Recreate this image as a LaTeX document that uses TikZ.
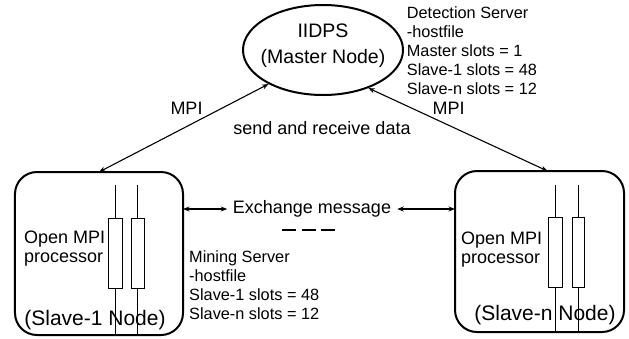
\documentclass[tikz,border=0pt]{standalone}
\usepackage{fontspec}
\setmainfont{Liberation Sans}
\usetikzlibrary{shapes.geometric,arrows.meta,calc}
\begin{document}
\begin{tikzpicture}[x=1bp,y=-1bp,
  frame/.style={draw, line width=2bp, rounded corners=22bp, inner sep=0, outer sep=0},
  hostnode/.style={draw, ellipse, line width=2bp, minimum width=160bp, minimum height=90bp, inner sep=0},
  link/.style={line width=1.1bp, {Stealth[length=6.5bp,width=5bp]}-{Stealth[length=6.5bp,width=5bp]}},
  wire/.style={line width=0.9bp},
  bodytxt/.style={inner sep=0, font=\fontsize{18bp}{19bp}\selectfont},
  infotxt/.style={inner sep=0, align=left, anchor=north west, font=\fontsize{16.3bp}{19bp}\selectfont},
  titletxt/.style={inner sep=0, align=center, font=\fontsize{19.5bp}{26bp}\selectfont},
  nodetxt/.style={inner sep=0, font=\fontsize{21bp}{24bp}\selectfont},
]
\useasboundingbox (0,0) rectangle (629,338);

% master node and the two slave frames
\node[hostnode] (master) at (323,50) {};
\node[titletxt] (mtxt) at (323,45.5) {IIDPS\\(Master Node)};
\node[frame, minimum width=168bp, minimum height=163bp] (s1) at (99,253.5) {};
\node[frame, minimum width=169bp, minimum height=161bp] (sn) at (539.5,251.5) {};

% processor symbols inside Slave-1 (wires stop at the frame)
\begin{scope}
  \clip (s1.south west) rectangle (s1.north east);
  \draw[wire] (108,218) rectangle (122,288);
  \draw[wire] (131,218) rectangle (144,288);
  \draw[wire] (115,185) -- (115,218) (115,288) -- (115,345);
  \draw[wire] (137.5,185) -- (137.5,218) (137.5,288) -- (137.5,345);
\end{scope}

% processor symbols inside Slave-n
\begin{scope}
  \clip (sn.south west) rectangle (sn.north east);
  \draw[wire] (548,217) rectangle (562,287);
  \draw[wire] (572,217) rectangle (584,287);
  \draw[wire] (555,185) -- (555,217) (555,287) -- (555,345);
  \draw[wire] (578,185) -- (578,217) (578,287) -- (578,345);
\end{scope}

% texts inside the frames
\node[bodytxt, anchor=west, align=left] (p1) at (24,249) {Open MPI\\processor};
\node[bodytxt, anchor=west, align=left] (pn) at (461,250) {Open MPI\\processor};
\node[nodetxt] (l1) at (95,320) {(Slave-1 Node)};
\node[nodetxt] (ln) at (545,315) {(Slave-n Node)};

% MPI links to the master
\draw[link] (s1.north) -- (master.212);
\draw[link] (master.320) -- ($(sn.north)+(8,0)$);
\node[bodytxt] (mpi1) at (186.5,108) {MPI};
\node[bodytxt] (mpin) at (448.5,108) {MPI};
\node[bodytxt] (srd) at (322,128) {send and receive data};

% message exchange between slaves
\node[bodytxt] (ex) at (312,209) {Exchange message};
\draw[link] (s1.east |- ex.west) -- ([xshift=-5.5bp]ex.west);
\draw[link] (sn.west |- ex.east) -- ([xshift=6bp]ex.east);
\draw[line width=2bp, dash pattern=on 14bp off 5.5bp] (282,230) -- (335,230);

% host files
\node[infotxt] (det) at (406.7,6.5) {Detection Server\\-hostfile\\Master slots = 1\\Slave-1 slots = 48\\Slave-n slots = 12};
\node[infotxt] (mine) at (189,250) {Mining Server\\-hostfile\\Slave-1 slots = 48\\Slave-n slots = 12};
\end{tikzpicture}
\end{document}
